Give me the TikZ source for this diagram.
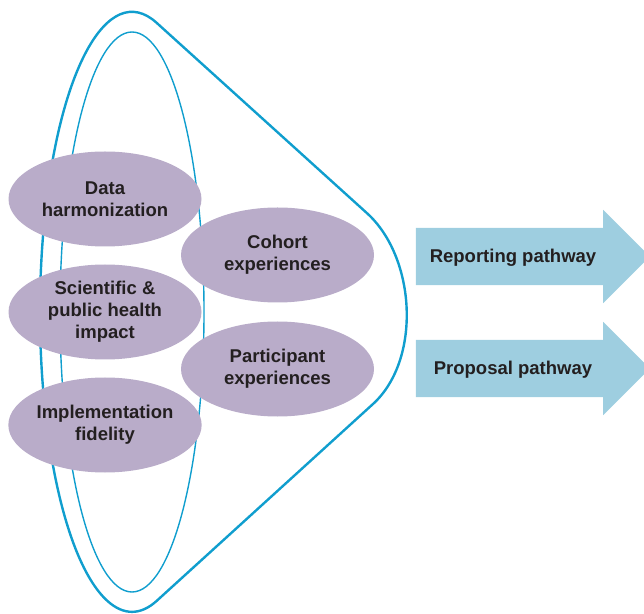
\documentclass[tikz,border=0pt]{standalone}
\usepackage{fontspec}
\setmainfont{Liberation Sans}
\usetikzlibrary{shapes.geometric,shapes.arrows,positioning}
\tikzset{every node/.append style={align=center}}
\definecolor{funnelcolor}{RGB}{16,158,206}
\definecolor{themecolor}{RGB}{185,172,201}
\definecolor{pathcolor}{RGB}{158,206,224}
\definecolor{labelcolor}{RGB}{35,31,32}

\begin{document}
\begin{tikzpicture}[x=1pt, y=1pt,
    theme/.style={ellipse, fill=themecolor, minimum width=193pt, minimum height=95pt, inner sep=0pt, text=labelcolor, font=\fontsize{18.5}{22}\selectfont\bfseries},
    pathway/.style={single arrow, fill=pathcolor, inner xsep=0pt, inner ysep=28.5pt, single arrow head extend=18pt, minimum height=234pt},
    pathlabel/.style={anchor=base, text=labelcolor, font=\fontsize{18.5}{22}\selectfont\bfseries}]
    \useasboundingbox (0,0) rectangle (644,613);
    \clip (0,0) rectangle (644,613);

    % Funnel
    \draw[funnelcolor, line width=2.4pt] (156.6,590.2) arc[start angle=74.5, end angle=285.6, x radius=92, y radius=300]
        -- (373,209) .. controls (421.7,253.5) and (416,355.5) .. (367,399.8) -- cycle;
    \draw[funnelcolor, line width=1.4pt] (132,301) ellipse[x radius=72, y radius=280];

    % Themes
    \node[theme] (data) at (105,414) {Data\\harmonization};
    \node[theme] (science) at (105,301) {Scientific \&\\public health\\impact};
    \node[theme] (fidelity) at (105,188) {Implementation\\fidelity};
    \node[theme] (cohort) at (277.5,358) {Cohort\\experiences};
    \node[theme] (participant) at (277.5,244) {Participant\\experiences};

    % Pathways
    \node[pathway] (reporting) at (518.5,356.5) {};
    \node[pathlabel] (reportinglabel) at (513,350) {Reporting pathway};
    \node[pathway] (proposal) at (518.5,244.5) {};
    \node[pathlabel] (proposallabel) at (513,238) {Proposal pathway};
\end{tikzpicture}
\end{document}
